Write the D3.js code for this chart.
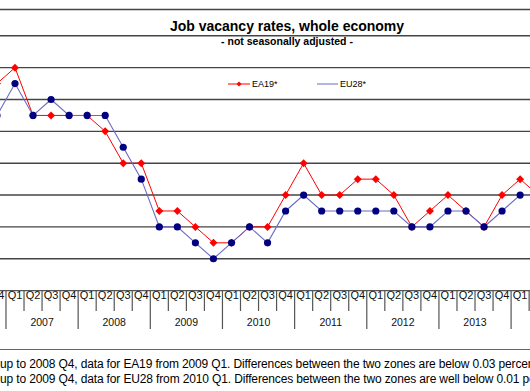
<!DOCTYPE html>
<html><head><meta charset="utf-8">
<script src="https://cdn.jsdelivr.net/npm/d3@7"></script>
<style>html,body{margin:0;padding:0;background:#fff;overflow:hidden}svg{display:block}</style>
</head><body>
<script>
// Quarters from 2006 Q4 to 2014 Q2 (the chart is cropped on both sides)
const quarters = ["2006Q4",
 "2007Q1","2007Q2","2007Q3","2007Q4",
 "2008Q1","2008Q2","2008Q3","2008Q4",
 "2009Q1","2009Q2","2009Q3","2009Q4",
 "2010Q1","2010Q2","2010Q3","2010Q4",
 "2011Q1","2011Q2","2011Q3","2011Q4",
 "2012Q1","2012Q2","2012Q3","2012Q4",
 "2013Q1","2013Q2","2013Q3","2013Q4",
 "2014Q1","2014Q2"];
const ea19 = [2.1, 2.2,1.9,1.9,1.9, 1.9,1.8,1.6,1.6, 1.3,1.3,1.2,1.1, 1.1,1.2,1.2,1.4, 1.6,1.4,1.4,1.5, 1.5,1.4,1.2,1.3, 1.4,1.3,1.2,1.4, 1.5,1.4];
const eu28 = [1.9, 2.1,1.9,2.0,1.9, 1.9,1.9,1.7,1.5, 1.2,1.2,1.1,1.0, 1.1,1.2,1.1,1.3, 1.4,1.3,1.3,1.3, 1.3,1.3,1.2,1.2, 1.3,1.3,1.2,1.3, 1.4,1.4];
const years = ["2007","2008","2009","2010","2011","2012","2013"];
const yTicks = [1.0,1.2,1.4,1.6,1.8,2.0,2.2,2.4];
const seriesNames = ["EA19*","EU28*"];
const title = "Job vacancy rates, whole economy";
const subtitle = "- not seasonally adjusted -";
const notes = ["up to 2008 Q4, data for EA19 from 2009 Q1. Differences between the two zones are below 0.03 percentage points.",
               "up to 2009 Q4, data for EU28 from 2010 Q1. Differences between the two zones are well below 0.01 percentage points."];

const W = 530, H = 391;
const svg = d3.select("body").append("svg").attr("width", W).attr("height", H)
  .style("font-family", "Arial, 'Liberation Sans', sans-serif");

const step = 18.04;
const x0 = 15 - step; // centre of 2006Q4
const x = d3.scaleBand().domain(quarters)
  .range([x0 - step/2, x0 - step/2 + step*quarters.length]).paddingInner(0).paddingOuter(0);
const cx = q => x(q) + x.bandwidth()/2;
const y = d3.scaleLinear().domain([0.8, 2.4]).range([290.6, 35.8]);

// plot top border
svg.append("line").attr("x1",0).attr("x2",W).attr("y1",9.5).attr("y2",9.5)
  .attr("stroke","#444").attr("stroke-width",1.6);
// gridlines
svg.append("g").selectAll("line").data(yTicks).join("line")
  .attr("x1",0).attr("x2",W).attr("y1",d=>y(d)).attr("y2",d=>y(d))
  .attr("stroke","#444").attr("stroke-width",1.4);
// x axis line
svg.append("line").attr("x1",0).attr("x2",W).attr("y1",y(0.8)).attr("y2",y(0.8))
  .attr("stroke","#555").attr("stroke-width",1.4);

// title
svg.append("text").attr("x",287).attr("y",30.5).attr("text-anchor","middle")
  .attr("font-weight","bold").attr("font-size",14).text(title);
svg.append("text").attr("x",287).attr("y",45).attr("text-anchor","middle")
  .attr("font-weight","bold").attr("font-size",10.5).text(subtitle);

// x axis: quarter separators, labels
const axisY = y(0.8);
const g = svg.append("g");
quarters.forEach((q,i)=>{
  const left = x(q);
  const isYear = q.endsWith("Q1");
  g.append("line").attr("x1",left).attr("x2",left).attr("y1",axisY).attr("y2", isYear ? 329 : 311)
    .attr("stroke","#555").attr("stroke-width",1.2);
  if (cx(q) < W) {
    g.append("text").attr("x",cx(q)).attr("y",299).attr("text-anchor","middle")
      .attr("font-size",11).attr("fill","#111").text(q.slice(4));
  }
});
years.forEach(yr=>{
  const a = x(yr+"Q1"), b = x(yr+"Q4") + x.bandwidth();
  g.append("text").attr("x",(a+b)/2).attr("y",326).attr("text-anchor","middle")
    .attr("font-size",10.5).attr("fill","#111").text(yr);
});

// series
const line = d3.line().x((d,i)=>cx(quarters[i])).y(d=>y(d));
svg.append("path").datum(ea19).attr("d",line).attr("fill","none").attr("stroke","#ff0000").attr("stroke-width",1);
svg.append("g").selectAll("path").data(ea19).join("path")
  .attr("transform",(d,i)=>`translate(${cx(quarters[i])},${y(d)})`)
  .attr("d","M0,-4L4,0L0,4L-4,0Z").attr("fill","#ff0000");
svg.append("path").datum(eu28).attr("d",line).attr("fill","none").attr("stroke","#6a6ac4").attr("stroke-width",1.1);
svg.append("g").selectAll("circle").data(eu28).join("circle")
  .attr("cx",(d,i)=>cx(quarters[i])).attr("cy",d=>y(d)).attr("r",3.6).attr("fill","#000080");

// legend
const lg = svg.append("g").attr("font-size",9);
lg.append("line").attr("x1",228).attr("x2",250).attr("y1",84).attr("y2",84).attr("stroke","#ff0000");
lg.append("path").attr("transform","translate(239,84)").attr("d","M0,-2.5L2.5,0L0,2.5L-2.5,0Z").attr("fill","#ff0000");
lg.append("text").attr("x",252).attr("y",87).text(seriesNames[0]);
lg.append("line").attr("x1",317).attr("x2",338).attr("y1",84).attr("y2",84).attr("stroke","#6a6ac4");
lg.append("text").attr("x",340).attr("y",87).text(seriesNames[1]);

// footnotes
svg.append("line").attr("x1",0).attr("x2",W).attr("y1",349.5).attr("y2",349.5).attr("stroke","#666").attr("stroke-width",1.2);
svg.append("g").selectAll("text").data(notes).join("text")
  .attr("x",0).attr("y",(d,i)=>368+i*15).attr("font-size",12).attr("letter-spacing",-0.14).attr("fill","#000").text(d=>d);
</script>
</body></html>
